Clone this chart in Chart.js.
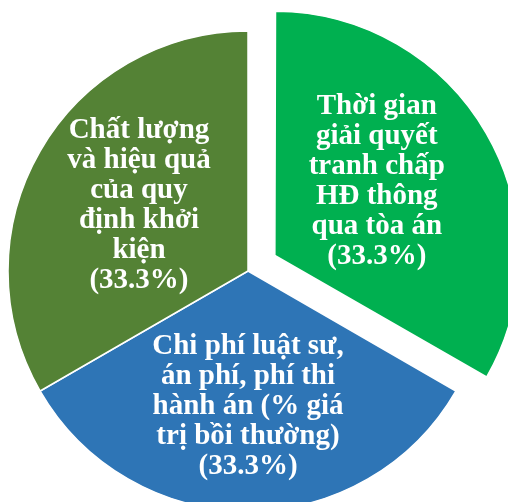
<!DOCTYPE html>
<html>
<head>
<meta charset="utf-8">
<script src="https://cdn.jsdelivr.net/npm/chart.js@4.4.1/dist/chart.umd.min.js"></script>
<style>
  html, body { margin: 0; padding: 0; background: #fff; }
  #wrap { width: 508px; height: 502px; }
</style>
</head>
<body>
<div id="wrap"><canvas id="c" width="508" height="502"></canvas></div>
<script>
// categories, split into the lines shown inside each slice
const categories = [
    "Thời gian giải quyết tranh chấp HĐ thông qua tòa án",
    "Chi phí luật sư, án phí, phí thi hành án (% giá trị bồi thường)",
    "Chất lượng và hiệu quả của quy định khởi kiện"
];
const labelLines = [
    ["Thời gian", "giải quyết", "tranh chấp", "HĐ thông", "qua tòa án"],
    ["Chi phí luật sư,", "án phí, phí thi", "hành án (% giá", "trị bồi thường)"],
    ["Chất lượng", "và hiệu quả", "của quy", "định khởi", "kiện"]
];
const values = [33.3, 33.3, 33.3];
const sliceColors = ['#00B050', '#2E75B6', '#548235'];
const sliceOffsets = [124, 0, 0];   // v4 translates by offset/4
const labelRadius = [0.525, 0.565, 0.53];
const labelTurn = [-6, 0, 1];       // degrees, nudges label along the arc

// draw the multi-line text labels inside each slice
const sliceLabels = {
    id: 'sliceLabels',
    afterDatasetsDraw(chart) {
        const ctx = chart.ctx;
        const meta = chart.getDatasetMeta(0);
        ctx.save();
        ctx.fillStyle = '#fff';
        ctx.font = 'bold 29px "Liberation Serif", "Times New Roman", serif';
        ctx.textAlign = 'center';
        ctx.textBaseline = 'middle';
        const lineH = 30;
        meta.data.forEach((arc, i) => {
            const p = arc.getProps(['x', 'y', 'startAngle', 'endAngle', 'outerRadius']);
            const mid = (p.startAngle + p.endAngle) / 2;
            const off = (arc.options.offset || 0) / 4;
            const ox = p.x + Math.cos(mid) * off;
            const oy = p.y + Math.sin(mid) * off;
            const a = mid + labelTurn[i] * Math.PI / 180;
            const dist = p.outerRadius * labelRadius[i];
            const cx = ox + Math.cos(a) * dist;
            const cy = oy + Math.sin(a) * dist;
            const lines = labelLines[i].concat(['(' + values[i].toFixed(1) + '%)']);
            const top = cy - (lines.length - 1) * lineH / 2;
            lines.forEach((t, k) => ctx.fillText(t, cx, top + k * lineH));
        });
        ctx.restore();
    }
};

const chart = new Chart(document.getElementById('c').getContext('2d'), {
    type: 'pie',
    data: {
        labels: categories,
        datasets: [{
            data: values,
            backgroundColor: sliceColors,
            borderColor: '#fff',
            borderWidth: 1.5,
            offset: sliceOffsets
        }]
    },
    options: {
        responsive: false,
        animation: false,
        radius: 240,
        layout: { padding: { left: 0, right: 12, top: 40, bottom: 0 } },
        plugins: {
            legend: { display: false },
            tooltip: { enabled: false }
        }
    },
    plugins: [sliceLabels]
});
</script>
</body>
</html>
